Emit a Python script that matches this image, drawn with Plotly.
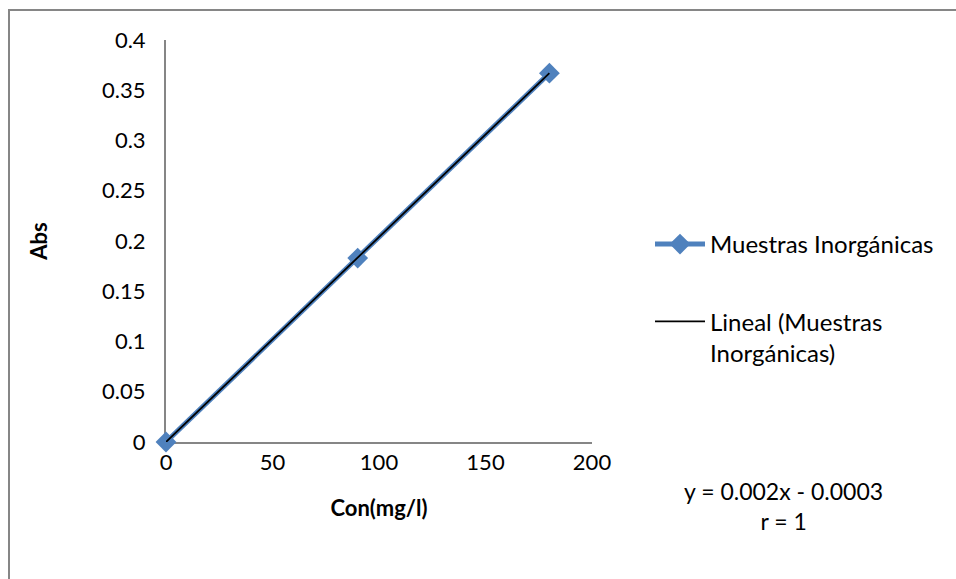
import plotly.graph_objects as go

# Calibration data
conc = [0, 90, 180]
absorb = [0, 0.183, 0.367]

# Linear fit shown on the chart
slope = 0.002
intercept = -0.0003
fit_x = [0, 180]
fit_y = [0.0, 0.367]

x_ticks = [0, 50, 100, 150, 200]
y_ticks = [0, 0.05, 0.1, 0.15, 0.2, 0.25, 0.3, 0.35, 0.4]
y_labels = ["0", "0.05", "0.1", "0.15", "0.2", "0.25", "0.3", "0.35", "0.4"]

FONT = "Lato, 'Open Sans', sans-serif"
BLUE = "#4F81BD"
AXIS = "#868686"

fig = go.Figure()
fig.add_trace(go.Scatter(
    x=conc, y=absorb, mode="lines+markers", name="Muestras Inorgánicas",
    line=dict(color=BLUE, width=5),
    marker=dict(symbol="diamond", size=16, color=BLUE),
    cliponaxis=False, legendgroup="data",
))
fig.add_trace(go.Scatter(
    x=fit_x, y=fit_y, mode="lines", name="Lineal (Muestras<br>Inorgánicas)",
    line=dict(color="black", width=1.8),
    cliponaxis=False, legendgroup="fit",
))

L, R, T, B = 166, 956 - 592, 40, 579 - 442
W, H = 956, 579
pw, ph = W - L - R, H - T - B

def px(xp):
    return (xp - L) / pw

def py(yp):
    return (H - B - yp) / ph

fig.update_layout(
    width=W, height=H,
    margin=dict(l=L, r=R, t=T, b=B),
    paper_bgcolor="white", plot_bgcolor="white",
    font=dict(family=FONT, size=22, color="black"),
    showlegend=True,
    legend=dict(
        x=px(650), y=py(222), xanchor="left", yanchor="top",
        font=dict(family=FONT, size=24, color="black"),
        itemwidth=50, tracegroupgap=43, bgcolor="rgba(0,0,0,0)",
        valign="top",
    ),
    xaxis=dict(
        range=[0, 200], tickvals=x_ticks, ticktext=[str(v) for v in x_ticks],
        showgrid=False, zeroline=False, showline=True, linecolor=AXIS, linewidth=2,
        ticks="", ticklen=0,
        tickfont=dict(family=FONT, size=22), layer="below traces",
        title=dict(text="<b>Con(mg/l)</b>", standoff=26,
                   font=dict(family=FONT, size=22)),
    ),
    yaxis=dict(
        range=[0, 0.4], tickvals=y_ticks, ticktext=y_labels,
        showgrid=False, zeroline=False, showline=True, linecolor=AXIS, linewidth=2,
        ticks="outside", ticklen=14, tickcolor="rgba(0,0,0,0)",
        tickfont=dict(family=FONT, size=22), layer="below traces",
        title=dict(text="<b>Abs</b>", standoff=48,
                   font=dict(family=FONT, size=22)),
    ),
)

# Equation of the fitted line and correlation coefficient
fig.add_annotation(
    xref="paper", yref="paper", x=px(783), y=py(506),
    text=f"y = {slope}x - {abs(intercept)}<br>r = 1",
    showarrow=False, align="center", xanchor="center", yanchor="middle",
    font=dict(family=FONT, size=23, color="black"),
)

# Chart border (left and top edges)
fig.add_shape(type="path", xref="paper", yref="paper",
              path=f"M {px(9)},{py(600)} L {px(9)},{py(10)} L {px(1000)},{py(10)}",
              line=dict(color=AXIS, width=2))

fig.write_html("out.html")
